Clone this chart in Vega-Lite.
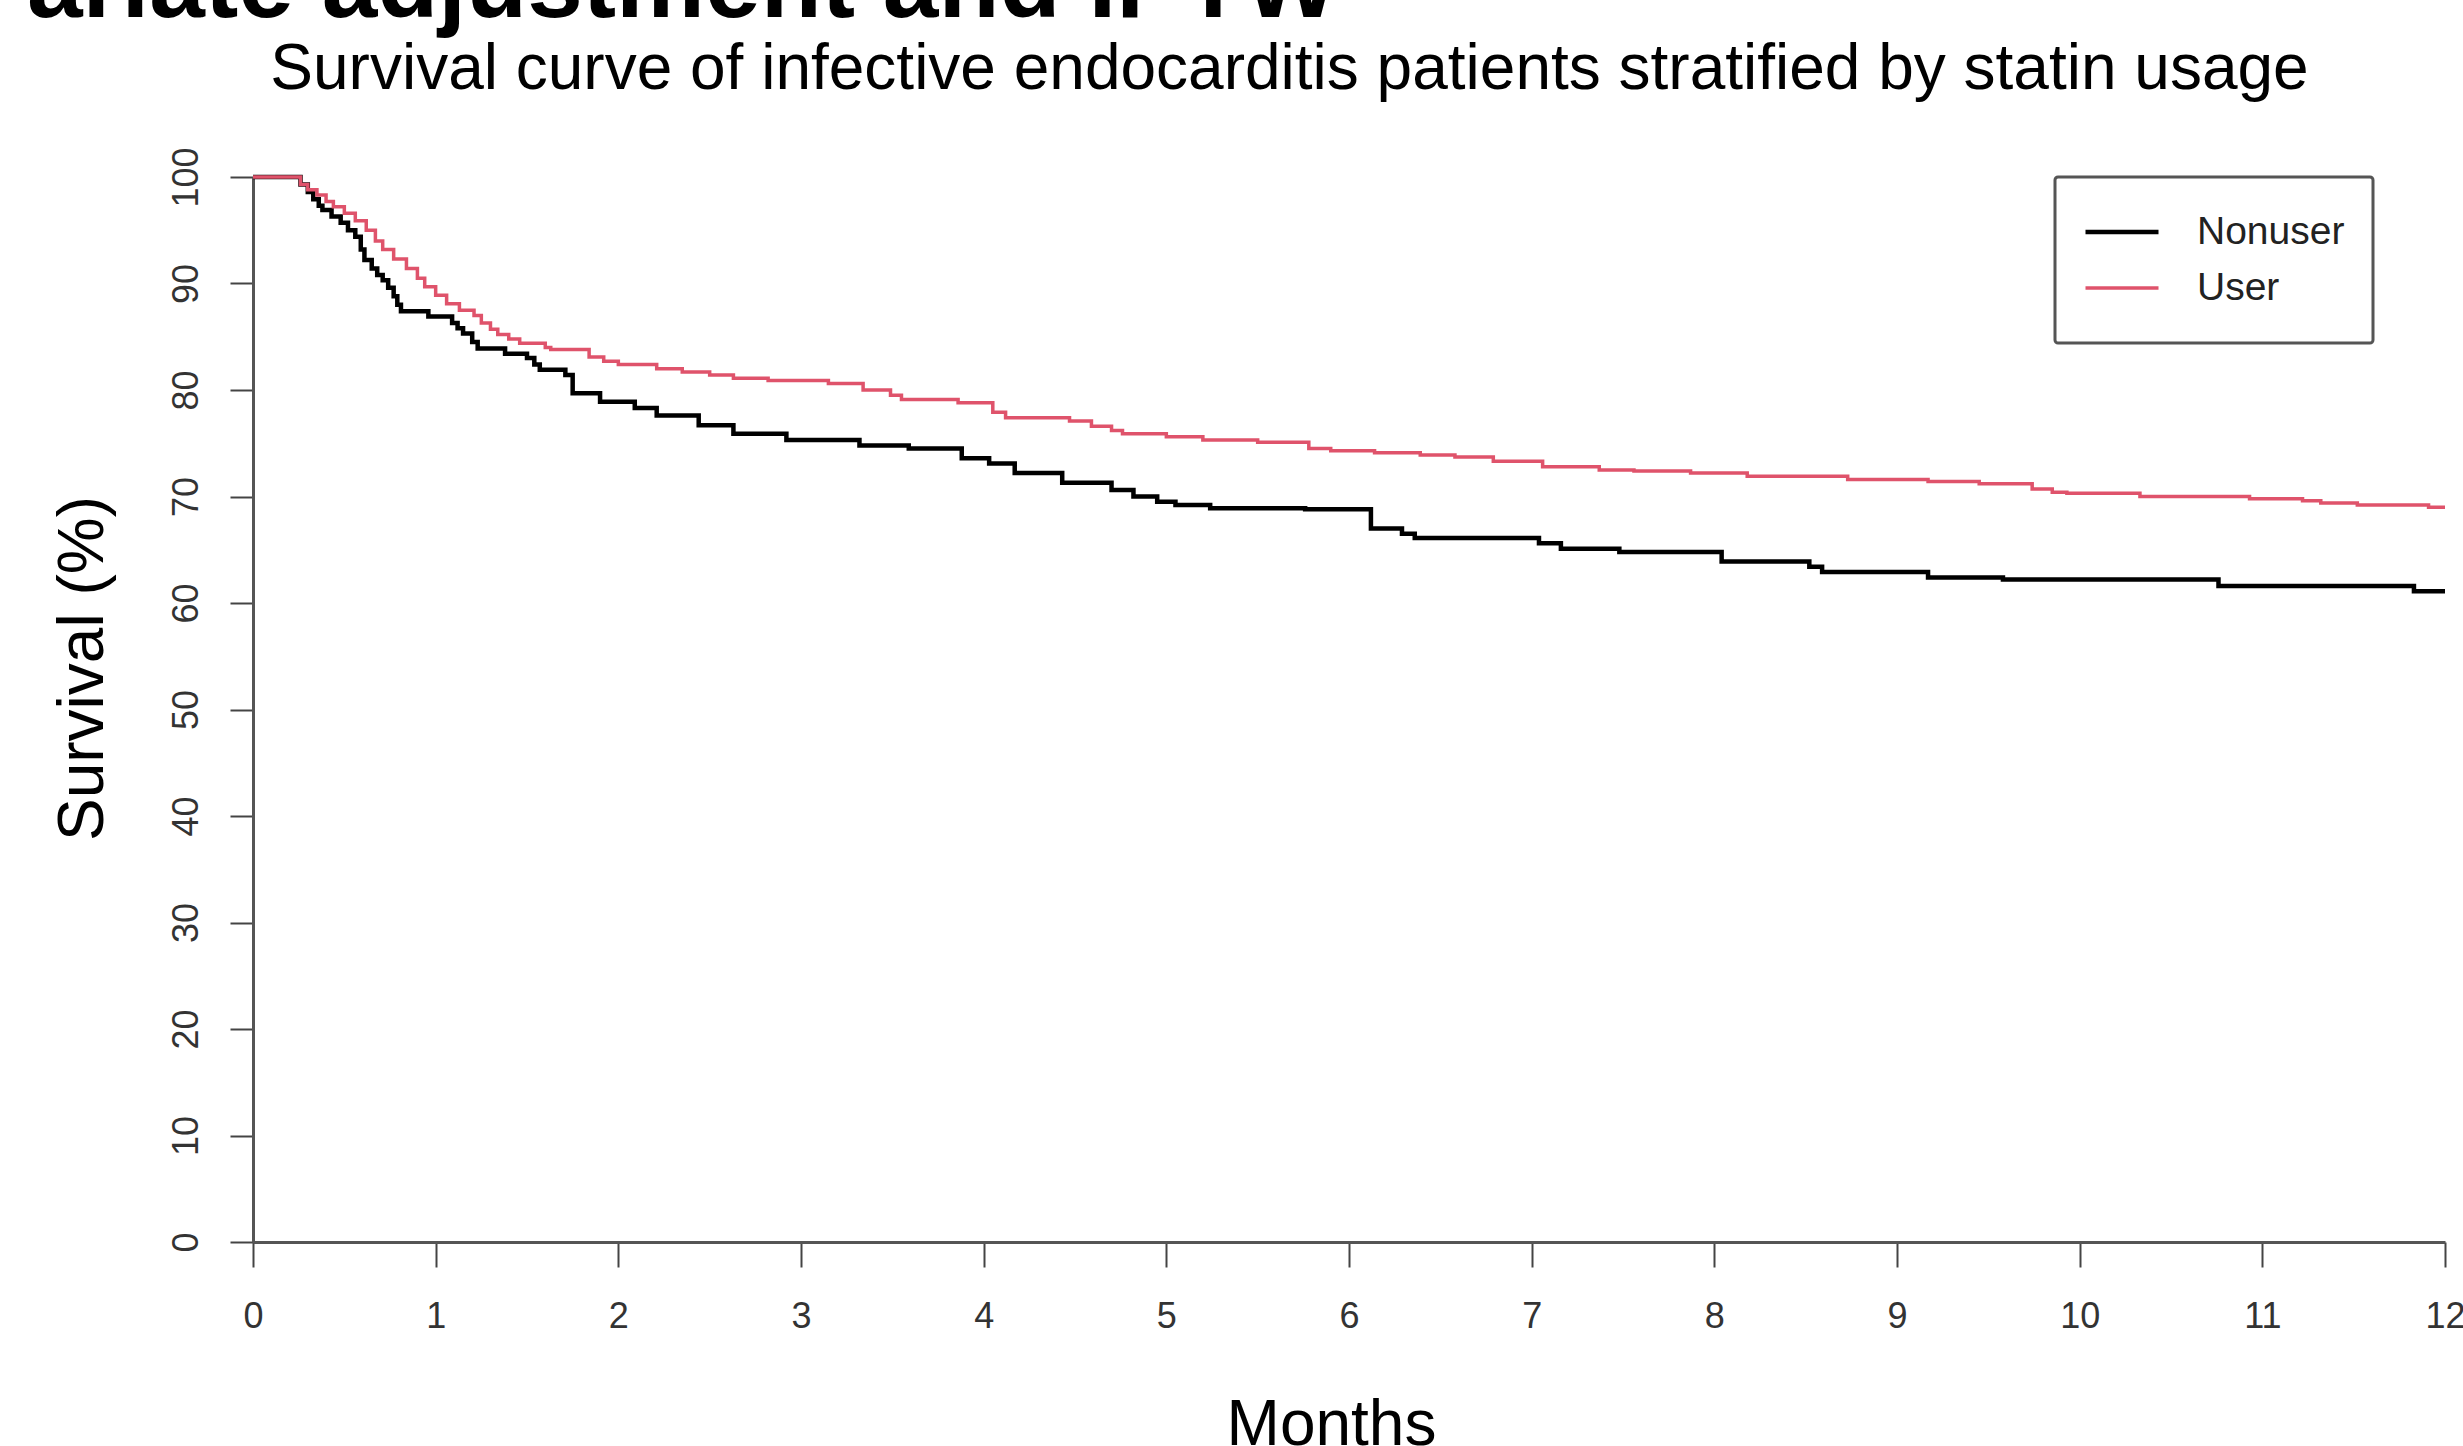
{
  "$schema": "https://vega.github.io/schema/vega-lite/v6.json",
  "width": 2192,
  "height": 1065,
  "autosize": {"type": "none"},
  "padding": {"left": 253, "top": 177, "right": 18, "bottom": 204},
  "background": "white",
  "config": {
    "view": {"stroke": null},
    "font": "Liberation Sans",
    "legend": {"strokeWidth": 3}
  },
  "title": {
    "text": "ariate adjustment and IPTW",
    "fontSize": 100,
    "fontWeight": "bold",
    "color": "#000000",
    "anchor": "start",
    "frame": "group",
    "align": "left",
    "baseline": "alphabetic",
    "dx": -226,
    "dy": 80,
    "offset": 0
  },
  "layer": [
    {
      "data": {
        "values": [
          {"group": "Nonuser", "month": 0, "survival": 100},
          {"group": "Nonuser", "month": 0.26, "survival": 99.3},
          {"group": "Nonuser", "month": 0.3, "survival": 98.6},
          {"group": "Nonuser", "month": 0.33, "survival": 97.9},
          {"group": "Nonuser", "month": 0.36, "survival": 97.3},
          {"group": "Nonuser", "month": 0.38, "survival": 96.9},
          {"group": "Nonuser", "month": 0.43, "survival": 96.3},
          {"group": "Nonuser", "month": 0.48, "survival": 95.7},
          {"group": "Nonuser", "month": 0.52, "survival": 95.0},
          {"group": "Nonuser", "month": 0.56, "survival": 94.4},
          {"group": "Nonuser", "month": 0.59, "survival": 93.2},
          {"group": "Nonuser", "month": 0.61, "survival": 92.2},
          {"group": "Nonuser", "month": 0.65, "survival": 91.4},
          {"group": "Nonuser", "month": 0.68, "survival": 90.8},
          {"group": "Nonuser", "month": 0.71, "survival": 90.3},
          {"group": "Nonuser", "month": 0.74, "survival": 89.6},
          {"group": "Nonuser", "month": 0.77, "survival": 88.8},
          {"group": "Nonuser", "month": 0.79, "survival": 88.0},
          {"group": "Nonuser", "month": 0.81, "survival": 87.4},
          {"group": "Nonuser", "month": 0.96, "survival": 86.9},
          {"group": "Nonuser", "month": 1.09, "survival": 86.3},
          {"group": "Nonuser", "month": 1.12, "survival": 85.8},
          {"group": "Nonuser", "month": 1.15, "survival": 85.3},
          {"group": "Nonuser", "month": 1.2, "survival": 84.5},
          {"group": "Nonuser", "month": 1.23, "survival": 83.9},
          {"group": "Nonuser", "month": 1.38, "survival": 83.4},
          {"group": "Nonuser", "month": 1.5, "survival": 83.0},
          {"group": "Nonuser", "month": 1.54, "survival": 82.4},
          {"group": "Nonuser", "month": 1.57, "survival": 81.9},
          {"group": "Nonuser", "month": 1.71, "survival": 81.4},
          {"group": "Nonuser", "month": 1.75, "survival": 79.7},
          {"group": "Nonuser", "month": 1.9, "survival": 78.9},
          {"group": "Nonuser", "month": 2.09, "survival": 78.3},
          {"group": "Nonuser", "month": 2.21, "survival": 77.6},
          {"group": "Nonuser", "month": 2.44, "survival": 76.7},
          {"group": "Nonuser", "month": 2.63, "survival": 75.9},
          {"group": "Nonuser", "month": 2.92, "survival": 75.3},
          {"group": "Nonuser", "month": 3.32, "survival": 74.8},
          {"group": "Nonuser", "month": 3.59, "survival": 74.5},
          {"group": "Nonuser", "month": 3.88, "survival": 73.6},
          {"group": "Nonuser", "month": 4.03, "survival": 73.1},
          {"group": "Nonuser", "month": 4.17, "survival": 72.2},
          {"group": "Nonuser", "month": 4.43, "survival": 71.3},
          {"group": "Nonuser", "month": 4.7, "survival": 70.6},
          {"group": "Nonuser", "month": 4.82, "survival": 70.0},
          {"group": "Nonuser", "month": 4.95, "survival": 69.5},
          {"group": "Nonuser", "month": 5.05, "survival": 69.2},
          {"group": "Nonuser", "month": 5.24, "survival": 68.9},
          {"group": "Nonuser", "month": 5.76, "survival": 68.8},
          {"group": "Nonuser", "month": 6.12, "survival": 67.0},
          {"group": "Nonuser", "month": 6.29, "survival": 66.5},
          {"group": "Nonuser", "month": 6.36, "survival": 66.1},
          {"group": "Nonuser", "month": 7.04, "survival": 65.6},
          {"group": "Nonuser", "month": 7.16, "survival": 65.1},
          {"group": "Nonuser", "month": 7.48, "survival": 64.8},
          {"group": "Nonuser", "month": 8.04, "survival": 63.9},
          {"group": "Nonuser", "month": 8.52, "survival": 63.4},
          {"group": "Nonuser", "month": 8.59, "survival": 62.9},
          {"group": "Nonuser", "month": 9.17, "survival": 62.4},
          {"group": "Nonuser", "month": 9.58, "survival": 62.2},
          {"group": "Nonuser", "month": 10.76, "survival": 61.6},
          {"group": "Nonuser", "month": 11.83, "survival": 61.1},
          {"group": "Nonuser", "month": 12.0, "survival": 61.1},
          {"group": "User", "month": 0, "survival": 100},
          {"group": "User", "month": 0.26, "survival": 99.3},
          {"group": "User", "month": 0.3, "survival": 98.8},
          {"group": "User", "month": 0.35, "survival": 98.3},
          {"group": "User", "month": 0.4, "survival": 97.7},
          {"group": "User", "month": 0.44, "survival": 97.2},
          {"group": "User", "month": 0.5, "survival": 96.6},
          {"group": "User", "month": 0.56, "survival": 95.9},
          {"group": "User", "month": 0.62, "survival": 95.0},
          {"group": "User", "month": 0.67, "survival": 94.0},
          {"group": "User", "month": 0.71, "survival": 93.2},
          {"group": "User", "month": 0.77, "survival": 92.3},
          {"group": "User", "month": 0.84, "survival": 91.4},
          {"group": "User", "month": 0.9, "survival": 90.5},
          {"group": "User", "month": 0.94, "survival": 89.7},
          {"group": "User", "month": 1.0, "survival": 88.9},
          {"group": "User", "month": 1.06, "survival": 88.1},
          {"group": "User", "month": 1.13, "survival": 87.5},
          {"group": "User", "month": 1.21, "survival": 87.0},
          {"group": "User", "month": 1.25, "survival": 86.3},
          {"group": "User", "month": 1.3, "survival": 85.7},
          {"group": "User", "month": 1.34, "survival": 85.2},
          {"group": "User", "month": 1.4, "survival": 84.8},
          {"group": "User", "month": 1.46, "survival": 84.4},
          {"group": "User", "month": 1.6, "survival": 84.0},
          {"group": "User", "month": 1.63, "survival": 83.8},
          {"group": "User", "month": 1.84, "survival": 83.1},
          {"group": "User", "month": 1.92, "survival": 82.7},
          {"group": "User", "month": 2.0, "survival": 82.4},
          {"group": "User", "month": 2.21, "survival": 82.0},
          {"group": "User", "month": 2.35, "survival": 81.7},
          {"group": "User", "month": 2.5, "survival": 81.4},
          {"group": "User", "month": 2.63, "survival": 81.1},
          {"group": "User", "month": 2.82, "survival": 80.9},
          {"group": "User", "month": 3.15, "survival": 80.6},
          {"group": "User", "month": 3.34, "survival": 80.0},
          {"group": "User", "month": 3.49, "survival": 79.5},
          {"group": "User", "month": 3.55, "survival": 79.1},
          {"group": "User", "month": 3.86, "survival": 78.8},
          {"group": "User", "month": 4.05, "survival": 77.9},
          {"group": "User", "month": 4.12, "survival": 77.4},
          {"group": "User", "month": 4.47, "survival": 77.1},
          {"group": "User", "month": 4.59, "survival": 76.6},
          {"group": "User", "month": 4.7, "survival": 76.2},
          {"group": "User", "month": 4.76, "survival": 75.9},
          {"group": "User", "month": 5.0, "survival": 75.6},
          {"group": "User", "month": 5.2, "survival": 75.3},
          {"group": "User", "month": 5.5, "survival": 75.1},
          {"group": "User", "month": 5.78, "survival": 74.5},
          {"group": "User", "month": 5.9, "survival": 74.3},
          {"group": "User", "month": 6.14, "survival": 74.1},
          {"group": "User", "month": 6.39, "survival": 73.9},
          {"group": "User", "month": 6.58, "survival": 73.7},
          {"group": "User", "month": 6.79, "survival": 73.3},
          {"group": "User", "month": 7.06, "survival": 72.8},
          {"group": "User", "month": 7.37, "survival": 72.5},
          {"group": "User", "month": 7.56, "survival": 72.4},
          {"group": "User", "month": 7.87, "survival": 72.2},
          {"group": "User", "month": 8.18, "survival": 71.9},
          {"group": "User", "month": 8.73, "survival": 71.6},
          {"group": "User", "month": 9.17, "survival": 71.4},
          {"group": "User", "month": 9.45, "survival": 71.2},
          {"group": "User", "month": 9.74, "survival": 70.7},
          {"group": "User", "month": 9.85, "survival": 70.4},
          {"group": "User", "month": 9.93, "survival": 70.3},
          {"group": "User", "month": 10.33, "survival": 70.0},
          {"group": "User", "month": 10.93, "survival": 69.8},
          {"group": "User", "month": 11.22, "survival": 69.6},
          {"group": "User", "month": 11.32, "survival": 69.4},
          {"group": "User", "month": 11.52, "survival": 69.2},
          {"group": "User", "month": 11.91, "survival": 69.0},
          {"group": "User", "month": 12.0, "survival": 69.0}
        ]
      },
      "mark": {"type": "line", "interpolate": "step-after"},
      "encoding": {
        "x": {
          "field": "month",
          "type": "quantitative",
          "scale": {"domain": [0, 12], "nice": false, "zero": false},
          "axis": {
            "orient": "bottom",
            "title": "Months",
            "values": [0, 1, 2, 3, 4, 5, 6, 7, 8, 9, 10, 11, 12],
            "grid": false,
            "labelFlush": false,
            "labelOverlap": false,
            "labelFontSize": 36,
            "labelColor": "#333333",
            "labelPadding": 32,
            "tickSize": 25,
            "tickWidth": 2,
            "tickColor": "#444444",
            "domainColor": "#555555",
            "domainWidth": 3,
            "titleFontSize": 64,
            "titleFontWeight": "normal",
            "titleColor": "#000000",
            "titleAlign": "center",
            "titleBaseline": "alphabetic",
            "titleX": 1078,
            "titleY": 202
          }
        },
        "y": {
          "field": "survival",
          "type": "quantitative",
          "scale": {"domain": [0, 100], "nice": false},
          "axis": {
            "title": "Survival (%)",
            "values": [0, 10, 20, 30, 40, 50, 60, 70, 80, 90, 100],
            "grid": false,
            "labelFlush": false,
            "labelOverlap": false,
            "labelAngle": -90,
            "labelAlign": "center",
            "labelBaseline": "alphabetic",
            "labelFontSize": 36,
            "labelColor": "#333333",
            "labelPadding": 33,
            "tickSize": 23,
            "tickWidth": 2,
            "tickColor": "#444444",
            "domainColor": "#555555",
            "domainWidth": 3,
            "titleFontSize": 64,
            "titleFontWeight": "normal",
            "titleColor": "#000000",
            "titleAngle": -90,
            "titleAlign": "center",
            "titleBaseline": "alphabetic",
            "titleX": -151,
            "titleY": 491
          }
        },
        "color": {
          "field": "group",
          "type": "nominal",
          "scale": {"domain": ["Nonuser", "User"], "range": ["#000000", "#DF536B"]},
          "legend": {
            "title": null,
            "orient": "none",
            "legendX": 1802,
            "legendY": 0,
            "symbolType": "stroke",
            "symbolSize": 5329,
            "symbolStrokeWidth": 2,
            "clipHeight": 54,
            "labelFontSize": 39,
            "labelColor": "#222222",
            "labelOffset": 36,
            "padding": 28,
            "rowPadding": 2,
            "strokeColor": "#555555",
            "cornerRadius": 3,
            "fillColor": "#ffffff"
          }
        },
        "strokeWidth": {
          "field": "group",
          "type": "nominal",
          "scale": {"domain": ["Nonuser", "User"], "range": [4.5, 3.5]},
          "legend": null
        }
      }
    },
    {
      "data": {"values": [{"month": 0}]},
      "mark": {"type": "rule", "opacity": 0},
      "encoding": {
        "x": {
          "field": "month",
          "type": "quantitative",
          "axis": {
            "orient": "top",
            "title": "Survival curve of infective endocarditis patients stratified by statin usage",
            "labels": false,
            "ticks": false,
            "domain": false,
            "grid": false,
            "titleFontSize": 64,
            "titleFontWeight": "normal",
            "titleColor": "#000000",
            "titleAlign": "center",
            "titleBaseline": "alphabetic",
            "titleX": 1036,
            "titleY": -89
          }
        }
      }
    }
  ],
  "resolve": {"axis": {"x": "independent"}}
}
